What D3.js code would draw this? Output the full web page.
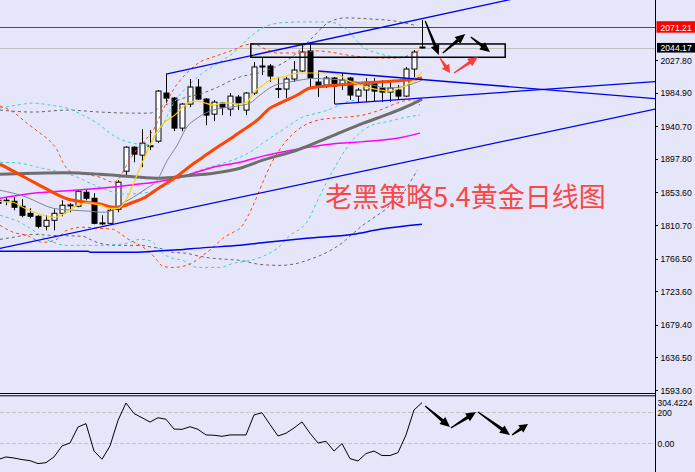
<!DOCTYPE html>
<html><head><meta charset="utf-8">
<script src="https://cdn.jsdelivr.net/npm/d3@7"></script>
<style>html,body{margin:0;padding:0;background:#E6E6FA;}svg{display:block;}</style>
</head><body>
<svg id="c" width="695" height="472"></svg>
<script>
// ---------- DATA ----------
// daily candles [open, high, low, close]
const candles = [
 [1843.3,1845.9,1836.7,1839.3],[1843.3,1847.2,1836.7,1843.0],[1841.9,1847.2,1830.1,1834.0],[1835.3,1844.6,1820.8,1823.5],
 [1826.1,1832.7,1819.5,1822.2],[1822.2,1823.5,1806.3,1809.0],[1809.0,1823.5,1803.7,1816.9],[1816.9,1831.4,1803.7,1826.1],
 [1826.1,1843.3,1822.2,1836.7],[1836.7,1839.3,1827.4,1837.2],[1835.3,1856.4,1834.0,1855.1],[1853.8,1857.8,1843.3,1845.9],
 [1845.9,1852.5,1811.6,1812.9],[1812.9,1823.5,1810.3,1813.5],[1812.9,1832.7,1811.6,1830.1],[1831.4,1869.6,1827.4,1867.0],
 [1881.5,1914.4,1873.6,1913.1],[1913.1,1914.4,1893.3,1903.9],[1902.6,1936.8,1886.8,1918.4],[1914.4,1935.5,1909.2,1915.0],
 [1921.0,1988.3,1918.4,1986.9],[1984.3,2009.3,1971.1,1977.7],[1977.7,1979.0,1934.2,1938.2],[1938.2,1971.1,1934.2,1969.8],
 [1969.8,2002.8,1965.8,1992.2],[1992.2,2002.8,1975.1,1976.4],[1976.4,1977.7,1942.1,1955.3],[1956.6,1975.1,1947.4,1972.4],
 [1971.1,1972.4,1955.3,1965.8],[1963.2,1984.3,1954.0,1980.3],[1979.0,1981.7,1961.9,1971.1],[1961.9,1985.6,1955.3,1984.3],
 [1984.3,2025.2,1981.7,2018.6],[2019.9,2030.4,2008.0,2019.2],[2019.9,2022.5,1998.8,2006.7],[1989.6,2005.4,1977.7,1990.2],
 [1989.6,2005.4,1977.7,2002.8],[2002.8,2026.5,1998.8,2014.6],[2013.3,2048.9,2012.0,2038.3],[2039.7,2048.9,1990.9,2004.1],
 [1998.8,2012.0,1979.0,1993.5],[1994.8,2006.7,1990.9,2004.1],[2004.1,2005.4,1969.8,1993.5],[1994.8,2010.7,1988.3,2001.4],
 [2004.1,2005.4,1975.1,1981.7],[1980.3,1990.9,1971.1,1988.3],[1988.3,2004.1,1972.4,1994.8],[1997.5,2004.1,1973.8,1986.9],
 [1990.9,2001.4,1972.4,1985.6],[1985.6,2001.4,1972.4,1990.9],[1988.3,1994.8,1975.1,1980.3],[1980.3,2018.6,1979.0,2015.9],
 [2015.9,2041.0,2005.4,2038.3],[2044.9,2080.5,2043.0,2044.17]
];
// indicator lines as [barIndex, price]
const maFast = [[0.25,1841.9],[1.9,1840.6],[3.1,1834.0],[5.25,1824.8],[7.1,1820.8],[8.6,1827.4],[10,1837.2],[11.25,1839.9],[12.75,1837.2],[14,1832.7],[15,1832.7],[16,1843.3],[17,1867.0],[18,1892.0],[19,1915.8],[20,1935.5],[21,1947.4],[22.1,1955.3],[23.1,1965.8],[24,1972.4],[24.9,1973.8],[25.9,1971.1],[26.9,1968.5],[28,1971.1],[29,1971.1],[30,1969.8],[31.1,1972.4],[32,1985.6],[33,1993.5],[34,2001.4],[35.6,2005.4],[37.75,2010.7],[39.4,2010.7],[41.1,2010.7],[42.4,2009.3],[43.6,2001.4],[44.9,1996.2],[46.1,1992.2],[47.75,1988.3],[49,1986.9],[50.25,1990.9],[51.5,1997.5],[53,2012.0]];
const maTen = [[0.25,1856.4],[1.9,1852.5],[3.6,1847.2],[5.25,1839.3],[6.9,1832.7],[9.4,1830.1],[11.5,1828.8],[13.1,1827.4],[14.4,1830.7],[15.6,1839.3],[16.9,1847.2],[18.6,1859.1],[19.9,1869.6],[21.1,1894.7],[22.4,1915.8],[23.6,1939.5],[24.9,1951.3],[26.5,1960.6],[28.1,1964.5],[29.9,1967.2],[31.5,1971.1],[32.75,1981.7],[34.4,1993.5],[36.1,1998.1],[37.75,2001.4],[39.4,2003.4],[41.5,2002.8],[43.1,2001.4],[44.9,1998.8],[46.9,1994.8],[48.6,1990.9],[50.25,1992.2],[51.9,1996.8],[53,2001.4]];
const maTwenty = [[0.25,1890.7],[2.1,1880.6],[4.4,1867.4],[6.1,1857.8],[8.6,1845.3],[10.6,1841.3],[12.75,1838.4],[14.4,1834.0],[15.25,1834.7],[16.9,1840.6],[18.4,1847.2],[20.25,1860.4],[22.4,1874.9],[24,1888.1],[25.6,1899.9],[27.4,1913.1],[29,1923.7],[30.6,1935.5],[32.4,1948.7],[34,1964.5],[35.25,1971.1],[37.4,1981.7],[39,1990.9],[41.1,1993.5],[44,1996.2],[47.75,1998.8],[51.1,2001.4],[53,2004.1]];
const maSixty = [[0.25,1877.5],[4.4,1878.8],[8.6,1879.5],[12.75,1877.5],[16.9,1874.2],[20.25,1872.3],[23.6,1875.5],[26.9,1878.8],[30.25,1885.4],[33.1,1896.0],[37.4,1909.2],[41.5,1926.7],[45.6,1944.4],[49,1957.5],[51.5,1968.5],[53,1976.4]];
const maMagenta = [[0.25,1845.9],[4.4,1852.5],[8.6,1855.8],[12.75,1859.1],[16.9,1863.7],[21.1,1869.6],[23.6,1876.2],[26.9,1886.8],[30.25,1893.3],[33.1,1901.3],[37.4,1910.5],[41.5,1917.1],[45.6,1920.4],[47.75,1922.3],[50.6,1926.3],[52.75,1931.6]];
const maBlue = [[0.25,1776.0],[11.25,1776.0],[11.6,1774.7],[16.4,1774.7],[19.4,1776.0],[22.5,1778.0],[25.5,1780.6],[30.25,1783.9],[33.6,1787.9],[38.6,1793.2],[44.4,1798.4],[47.75,1805.0],[53,1811.6]];
const orangeUpper = [[0.25,1967.2],[1.9,1959.3],[3.6,1944.8],[5.25,1931.6],[6.5,1921.0],[7.4,1909.2],[8.1,1893.3],[9,1881.5],[10.9,1877.5],[12.75,1873.6],[14.4,1867.0],[15.25,1873.6],[16,1888.1],[17.1,1906.5],[18.4,1922.3],[19.4,1935.5],[20.6,1961.9],[21.9,1988.3],[23.6,2010.7],[25.25,2025.2],[26.9,2031.8],[29.4,2041.0],[30.9,2047.6],[31.9,2048.9],[33.4,2042.3],[34.9,2037.0],[37.4,2037.0],[39.9,2039.7],[41.5,2038.3],[43.6,2034.4],[45.6,2031.8],[47.75,2030.4],[49.9,2030.4],[51.5,2034.4],[52.75,2041.0]];
const orangeLower = [[0.25,1810.3],[1.9,1801.1],[3.6,1797.1],[5.6,1787.9],[7.1,1790.5],[8.6,1803.7],[10.6,1807.7],[12.75,1806.3],[14.4,1805.0],[15.25,1799.7],[16.1,1793.2],[17.75,1783.9],[19,1774.7],[19.9,1764.1],[20.6,1756.2],[21.9,1754.9],[23.6,1757.6],[24.4,1761.5],[25.6,1770.7],[26.9,1781.3],[28.1,1793.2],[29.4,1801.1],[30.25,1806.3],[31.9,1836.7],[33.1,1867.0],[34.25,1893.3],[35.9,1919.7],[37.75,1938.2],[40,1948.7],[41.9,1951.3],[43.6,1952.7],[45.6,1955.3],[47.75,1961.9],[49.9,1971.1],[51.5,1975.1],[52.75,1968.5]];
const cyanUpper = [[0.25,1964.5],[2.4,1968.5],[4.4,1971.1],[6.5,1968.5],[8.6,1964.5],[10.6,1955.3],[12.75,1942.1],[14,1931.6],[15.25,1923.7],[16.9,1918.4],[18.4,1915.8],[19.4,1922.3],[20.25,1935.5],[21.9,1969.8],[23.6,1992.2],[25.6,2010.7],[27.75,2025.2],[29.4,2037.0],[31.5,2058.1],[33.1,2070.0],[35.25,2076.6],[38.1,2077.9],[41.25,2077.9],[43.5,2068.7],[45.6,2044.9],[47.4,2037.0],[49.4,2032.4],[52.1,2031.8]];
const cyanLower = [[0.25,1823.5],[1.5,1819.5],[2.75,1814.3],[3.6,1809.0],[4.4,1803.7],[5.6,1794.5],[6.9,1787.9],[8.6,1783.9],[10.6,1783.9],[12.75,1783.9],[14.9,1785.3],[16.1,1786.6],[17.75,1791.8],[19.25,1789.2],[19.9,1781.3],[20.6,1773.4],[21.5,1768.1],[23.1,1764.1],[24.9,1754.9],[27.75,1754.9],[29.4,1760.2],[31.5,1764.1],[33.1,1769.4],[34.9,1780.0],[36.5,1797.1],[38.6,1814.3],[40.25,1849.8],[41.9,1882.8],[43.4,1909.2],[44.9,1928.9],[46.5,1940.8],[49,1947.4],[51.1,1952.7],[52.75,1955.3]];
const cyanInner = [[0.25,1893.3],[2.75,1892.0],[4.9,1886.8],[7.75,1880.2],[9.9,1873.6],[11.5,1865.7],[12.75,1860.4],[14.4,1853.8],[16.1,1851.2],[17.75,1852.5],[19.4,1855.1],[21.1,1863.0],[22.75,1872.3],[25.25,1882.8],[27.75,1890.7],[30.25,1899.9],[31.5,1906.5],[33.1,1918.4],[36.1,1939.5],[38.1,1952.7],[39.9,1957.9],[41.9,1964.5],[43.1,1971.1],[44.9,1975.1]];
const grayUpper = [[0.25,1961.9],[4.4,1959.3],[8.6,1961.9],[12.75,1959.3],[16.9,1957.9],[19,1957.9],[20.25,1965.8],[21.9,1972.4],[23.6,1979.0],[25.25,1983.0],[26.9,1989.6],[30.25,2005.4],[33,2012.0],[36.75,2031.8],[39,2054.2],[41.25,2076.6],[43.4,2083.2],[46.5,2081.8],[49.5,2079.2],[52.4,2072.6]];
const grayLower = [[0.25,1791.8],[1.9,1794.5],[4.4,1798.4],[6.5,1797.1],[10.6,1795.8],[11.5,1791.8],[12.75,1786.6],[14.9,1783.9],[17.75,1783.9],[19.4,1781.3],[20.25,1780.0],[21.9,1774.7],[23.6,1773.4],[25.25,1769.4],[26.9,1766.8],[28.6,1765.5],[30.25,1764.1],[32.75,1758.9],[35.25,1757.6],[37.4,1760.2],[39,1765.5],[41.1,1774.7],[43.1,1787.9],[44.4,1799.7],[45.6,1810.3],[46.5,1816.9],[48.6,1832.7],[50.6,1852.5],[52.4,1882.8]];
// CCI sub-window values
const cci = [-105,-88,-95,-105,-112,-131,-125,-88,-17,2,105,127,-50,-103,-17,148,260,192,165,137,165,155,92,90,107,90,54,52,45,54,54,54,183,197,121,47,65,99,138,65,2,13,-50,-2,-99,-114,-66,-50,-79,-79,-60,54,215,262];
const cciLevels = [200, 0];
const cciLabels = ["304.4224","200","0.00"];
const cciLabelValues = [304.4224, 200, 0];
// price axis
const priceTicks = [2027.80,1984.90,1940.70,1897.80,1853.60,1810.70,1766.50,1723.60,1679.40,1636.50,1593.60];
const resistPrice = 2071.21, bidPrice = 2044.17;
// drawn objects: trend lines [[i,p],[i,p]]
const trendLines = [
 [[21,2009.3],[64.5,2108.4]],
 [[-1,1777.2],[83,1965.2]],
 [[40,2013.3],[83,1976.2]],
 [[42.1,1969.8],[83,1999.9]]
];
const boxZone = [[31.6,2048.9],[63.4,2031.4]];
const blackArrows = [[[53.4,2079.2],[55.1,2034.4]],[[55.6,2037.0],[58.4,2062.1]],[[59.1,2058.1],[61.5,2038.3]]];
const redArrows = [[[55.25,2030.4],[56.5,2010.7]],[[57,2010.7],[60,2031.8]]];
const subArrows = [[[53.4,241],[56.5,105]],[[56.6,99],[59.75,202]],[[60,202],[64,54]],[[64.25,54],[66.25,125]]];
const noteText = "老黑策略5.4黄金日线图";
const noteAnchor = [40.9, 1849.8];

// ---------- CHART ----------
const W=695,H=472,plotR=655,mainB=393,subT=396;
const svg=d3.select('#c');
svg.append('rect').attr('width',W).attr('height',H).attr('fill','#E6E6FA');
const defs=svg.append('defs');
defs.append('clipPath').attr('id','cm').append('rect').attr('x',0).attr('y',0).attr('width',plotR).attr('height',mainB);
defs.append('clipPath').attr('id','cs').append('rect').attr('x',0).attr('y',subT).attr('width',plotR).attr('height',H-subT);

const x=d3.scaleLinear().domain([0,53]).range([-2,422]);
const y=d3.scaleLinear().domain([1593.6,2027.8]).range([390,60]);
const ys=d3.scaleLinear().domain([0,200]).range([443.3,412.3]);

const g=svg.append('g').attr('clip-path','url(#cm)');

// horizontal levels
g.append('line').attr('x1',0).attr('x2',plotR).attr('y1',Math.round(y(bidPrice))+0.5).attr('y2',Math.round(y(bidPrice))+0.5).attr('stroke','#C0C0C0').attr('stroke-width',1);
g.append('line').attr('x1',0).attr('x2',plotR).attr('y1',Math.round(y(resistPrice))+0.5).attr('y2',Math.round(y(resistPrice))+0.5).attr('stroke','#FF0000').attr('stroke-width',1);

const lineGen=d3.line().x(d=>x(d[0])).y(d=>y(d[1])).curve(d3.curveMonotoneX);
function drawLine(data,color,width,dash){
  g.append('path').datum(data).attr('d',lineGen).attr('fill','none').attr('stroke',color)
   .attr('stroke-width',width).attr('stroke-dasharray',dash||null).attr('stroke-linejoin','round');
}

// candles
const cg=g.append('g');
candles.forEach((c,i)=>{
  const [o,h,l,cl]=c; const cx=Math.round(x(i))+0.5;
  cg.append('line').attr('x1',cx).attr('x2',cx).attr('y1',y(h)).attr('y2',y(l)).attr('stroke','#000').attr('stroke-width',1);
  const top=y(Math.max(o,cl)), bot=y(Math.min(o,cl));
  cg.append('rect').attr('x',cx-2.5).attr('y',top).attr('width',5).attr('height',Math.max(1,bot-top))
    .attr('fill',cl>=o?'#FFFFFF':'#000000').attr('stroke','#000').attr('stroke-width',1);
});

// bands
drawLine(grayUpper,'#666666',1,'3,3');
drawLine(grayLower,'#666666',1,'3,3');
drawLine(cyanUpper,'#3FCFCF',1,'3,3');
drawLine(cyanLower,'#3FCFCF',1,'3,3');
drawLine(cyanInner,'#3FCFCF',1,'3,3');
drawLine(orangeUpper,'#FF4500',1,'3,3');
drawLine(orangeLower,'#FF4500',1,'3,3');
// moving averages
drawLine(maBlue,'#0000EE',1.5);
drawLine(maMagenta,'#FF00FF',1.5);
drawLine(maSixty,'#6E6E6E',3);
drawLine(maTwenty,'#FF4500',3);
drawLine(maTen,'#7C8796',1);
drawLine(maFast,'#FFD400',1.2);

// trend lines
trendLines.forEach(t=>{
  g.append('line').attr('x1',x(t[0][0])).attr('y1',y(t[0][1])).attr('x2',x(t[1][0])).attr('y2',y(t[1][1]))
   .attr('stroke','#0000E6').attr('stroke-width',1.3);
});
// rectangle
g.append('rect').attr('x',x(boxZone[0][0])).attr('y',y(boxZone[0][1]))
 .attr('width',x(boxZone[1][0])-x(boxZone[0][0])).attr('height',y(boxZone[1][1])-y(boxZone[0][1]))
 .attr('fill','none').attr('stroke','#000').attr('stroke-width',1.5);

// arrows
function arrow(sel,x1,y1,x2,y2,color){
  const dx=x2-x1,dy=y2-y1,L=Math.hypot(dx,dy),ux=dx/L,uy=dy/L,hl=Math.min(10,L*0.45),hw=4.5;
  const bx=x2-ux*hl,by=y2-uy*hl, px=-uy,py=ux;
  sel.append('path').attr('d',`M${x1+px*0.6},${y1+py*0.6}L${bx+px*1.6},${by+py*1.6}L${bx+px*hw},${by+py*hw}L${x2},${y2}L${bx-px*hw},${by-py*hw}L${bx-px*1.6},${by-py*1.6}L${x1-px*0.6},${y1-py*0.6}Z`)
    .attr('fill',color);
}
const ag=svg.append('g').attr('clip-path','url(#cm)');
blackArrows.forEach(a=>arrow(ag,x(a[0][0]),y(a[0][1]),x(a[1][0]),y(a[1][1]),'#000'));
redArrows.forEach(a=>arrow(ag,x(a[0][0]),y(a[0][1]),x(a[1][0]),y(a[1][1]),'#FF3B3B'));

// annotation text
svg.append('text').attr('x',x(noteAnchor[0])).attr('y',y(noteAnchor[1])).attr('dominant-baseline','central')
 .attr('font-family','"Noto Sans CJK SC","Noto Sans",sans-serif').attr('font-size',27).attr('fill','#F84848').text(noteText);

// ---------- SUB WINDOW ----------
const sg=svg.append('g').attr('clip-path','url(#cs)');
cciLevels.forEach(v=>{
  sg.append('line').attr('x1',0).attr('x2',plotR).attr('y1',Math.round(ys(v))+0.5).attr('y2',Math.round(ys(v))+0.5)
   .attr('stroke','#C4C4C4').attr('stroke-width',1).attr('stroke-dasharray','4,2');
});
sg.append('path').datum(cci).attr('d',d3.line().x((d,i)=>x(i)).y(d=>ys(d))).attr('fill','none').attr('stroke','#000').attr('stroke-width',1);
subArrows.forEach(a=>arrow(sg,x(a[0][0]),ys(a[0][1]),x(a[1][0]),ys(a[1][1]),'#000'));

// separators & axis
svg.append('line').attr('x1',0).attr('x2',plotR).attr('y1',393.5).attr('y2',393.5).attr('stroke','#000').attr('stroke-width',1.2);
svg.append('line').attr('x1',0).attr('x2',plotR).attr('y1',395.8).attr('y2',395.8).attr('stroke','#000').attr('stroke-width',1);
svg.append('line').attr('x1',plotR+0.5).attr('x2',plotR+0.5).attr('y1',0).attr('y2',H).attr('stroke','#000').attr('stroke-width',1);

const axg=svg.append('g').attr('font-family','"Liberation Sans",Arial,sans-serif').attr('font-size',9.6);
function fit(sel,maxW){ sel.each(function(){const L=this.getComputedTextLength(); const t=Math.min(L*0.9,maxW); this.setAttribute('textLength',t); this.setAttribute('lengthAdjust','spacingAndGlyphs');}); }
axg.selectAll('line.t').data(priceTicks).join('line').attr('x1',plotR).attr('x2',plotR+3)
  .attr('y1',d=>Math.round(y(d))+0.5).attr('y2',d=>Math.round(y(d))+0.5).attr('stroke','#000');
const tl=axg.selectAll('text.t').data(priceTicks).join('text').attr('x',660.5).attr('y',d=>y(d)).attr('dominant-baseline','central')
  .attr('fill','#000').text(d=>d.toFixed(2));
fit(tl,31.5);
// price boxes
axg.append('rect').attr('x',656.5).attr('y',y(resistPrice)-5.8).attr('width',38.5).attr('height',11.5).attr('fill','#FF0000');
fit(axg.append('text').attr('x',660.5).attr('y',y(resistPrice)).attr('dominant-baseline','central').attr('fill','#fff').text(resistPrice.toFixed(2)),31.5);
axg.append('rect').attr('x',657).attr('y',y(bidPrice)-4.6).attr('width',38).attr('height',9.6).attr('fill','#000');
fit(axg.append('text').attr('x',660.5).attr('y',y(bidPrice)+0.4).attr('dominant-baseline','central').attr('fill','#fff').text(bidPrice.toFixed(2)),31.5);
// sub labels
const sl=axg.selectAll('text.s').data(cciLabels).join('text').attr('x',657.5).attr('y',(d,i)=>i===0?402.7:ys(cciLabelValues[i]))
  .attr('dominant-baseline','central').attr('fill','#000').attr('font-size',(d,i)=>i===0?8.4:9.6).text(d=>d);
fit(sl.filter((d,i)=>i>0),31.5);
</script>
</body></html>
